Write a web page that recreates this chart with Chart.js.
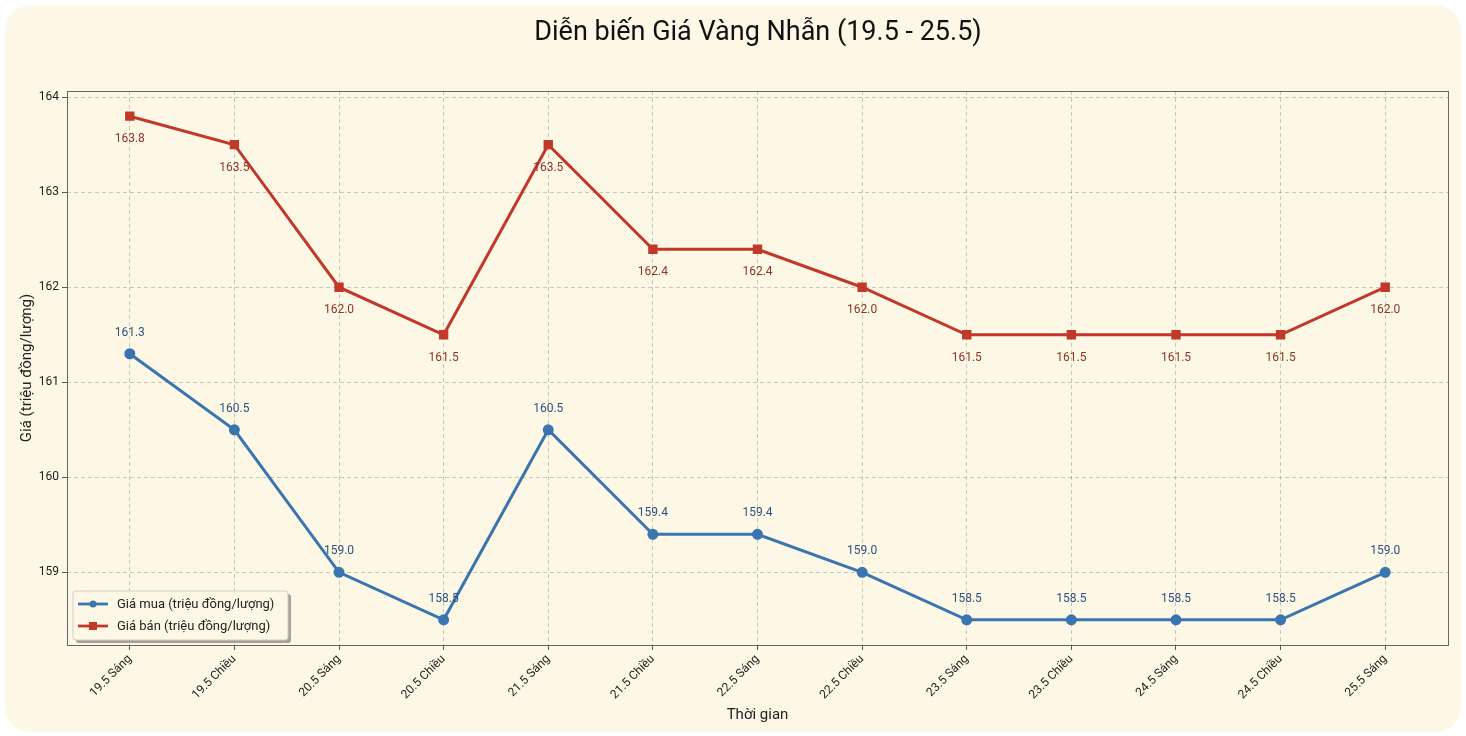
<!DOCTYPE html>
<html>
<head>
<meta charset="utf-8">
<script src="https://cdn.jsdelivr.net/npm/chart.js@4/dist/chart.umd.min.js"></script>
<style>
  html, body { margin: 0; padding: 0; background: #fefefe; }
  #wrap { width: 1466px; height: 736px; }
</style>
</head>
<body>
<div id="wrap"><canvas id="chart"></canvas></div>
<script>
const labels = ['19.5 Sáng', '19.5 Chiều', '20.5 Sáng', '20.5 Chiều', '21.5 Sáng', '21.5 Chiều',
    '22.5 Sáng', '22.5 Chiều', '23.5 Sáng', '23.5 Chiều', '24.5 Sáng', '24.5 Chiều', '25.5 Sáng'];
const giaMua = [161.3, 160.5, 159.0, 158.5, 160.5, 159.4, 159.4, 159.0, 158.5, 158.5, 158.5, 158.5, 159.0];
const giaBan = [163.8, 163.5, 162.0, 161.5, 163.5, 162.4, 162.4, 162.0, 161.5, 161.5, 161.5, 161.5, 162.0];
const yTicks = [159, 160, 161, 162, 163, 164];

const FONT = 'Roboto, "Noto Sans", sans-serif';
const BLUE = '#3a75b0';
const RED = '#c0392b';

// background card, title, plot frame
const cardPlugin = {
    id: 'card',
    beforeDraw(chart) {
        const c = chart.ctx;
        c.save();
        c.fillStyle = '#fdf8e6';
        c.beginPath();
        c.roundRect(5, 5, 1456, 727, 26);
        c.fill();
        c.fillStyle = '#111';
        c.font = '27px ' + FONT;
        c.textAlign = 'center';
        c.textBaseline = 'middle';
        c.fillText('Diễn biến Giá Vàng Nhẫn (19.5 - 25.5)', 758, 33);
        c.restore();
    },
    afterDatasetsDraw(chart) {
        const c = chart.ctx;
        const a = chart.chartArea;
        c.save();
        // value labels
        c.font = '12px ' + FONT;
        c.textAlign = 'center';
        c.textBaseline = 'middle';
        chart.data.datasets.forEach((ds, di) => {
            const meta = chart.getDatasetMeta(di);
            meta.data.forEach((pt, i) => {
                const v = ds.data[i].y.toFixed(1);
                c.fillStyle = di === 0 ? '#2f4f80' : '#8e3328';
                c.fillText(v, pt.x, di === 0 ? pt.y - 21 : pt.y + 23);
            });
        });
        // frame
        c.strokeStyle = '#666';
        c.lineWidth = 1;
        c.strokeRect(a.left + 0.5, a.top + 0.5, a.right - a.left, a.bottom - a.top);
        // legend
        const lx = 73, ly = 591, lw = 215, lh = 49;
        c.fillStyle = 'rgba(0,0,0,0.35)';
        c.beginPath(); c.roundRect(lx + 3, ly + 3, lw, lh, 3); c.fill();
        c.fillStyle = '#fdf8e6';
        c.strokeStyle = '#cfcfcf';
        c.beginPath(); c.roundRect(lx, ly, lw, lh, 3); c.fill(); c.stroke();
        c.textAlign = 'left';
        c.font = '13px ' + FONT;
        chart.data.datasets.forEach((ds, di) => {
            const y = ly + 13 + di * 22;
            c.strokeStyle = ds.borderColor;
            c.lineWidth = 2.8;
            c.beginPath(); c.moveTo(78, y); c.lineTo(108, y); c.stroke();
            c.fillStyle = ds.borderColor;
            if (di === 0) { c.beginPath(); c.arc(93, y, 3.5, 0, Math.PI * 2); c.fill(); }
            else c.fillRect(89, y - 4, 8, 8);
            c.fillStyle = '#222';
            c.fillText(ds.label, 117, y + 1);
        });
        c.restore();
    }
};

new Chart(document.getElementById('chart'), {
    type: 'line',
    data: {
        datasets: [{
            label: 'Giá mua (triệu đồng/lượng)',
            data: giaMua.map((v, i) => ({ x: i, y: v })),
            borderColor: BLUE,
            backgroundColor: BLUE,
            borderWidth: 3,
            pointStyle: 'circle',
            pointRadius: 4,
            pointHoverRadius: 4
        }, {
            label: 'Giá bán (triệu đồng/lượng)',
            data: giaBan.map((v, i) => ({ x: i, y: v })),
            borderColor: RED,
            backgroundColor: RED,
            borderWidth: 3,
            pointStyle: 'rect',
            pointRadius: 4.5,
            pointHoverRadius: 4.5
        }]
    },
    options: {
        responsive: true,
        maintainAspectRatio: false,
        animation: false,
        layout: { padding: { top: 91, right: 18, left: 18, bottom: 12 } },
        plugins: { legend: { display: false }, tooltip: { enabled: false } },
        scales: {
            x: {
                type: 'linear',
                min: -0.6,
                max: 12.6,
                afterBuildTicks: s => { s.ticks = labels.map((_, i) => ({ value: i })); },
                afterFit: s => { s.height = 79; },
                ticks: {
                    callback: v => labels[v],
                    minRotation: 45,
                    maxRotation: 45,
                    color: '#222',
                    font: { family: FONT, size: 12 },
                    padding: 2
                },
                grid: { color: 'rgba(0,0,0,0.2)', tickColor: '#555', tickLength: 5, tickBorderDash: [] },
                border: { display: false, dash: [4, 3] },
                title: { display: true, text: 'Thời gian', color: '#222', font: { family: FONT, size: 15 }, padding: { top: 0, bottom: 0 } }
            },
            y: {
                min: 158.235,
                max: 164.065,
                afterBuildTicks: s => { s.ticks = yTicks.map(v => ({ value: v })); },
                afterFit: s => { s.width = 49; },
                ticks: {
                    color: '#222',
                    font: { family: FONT, size: 12 },
                    padding: 3
                },
                grid: { color: 'rgba(0,0,0,0.2)', tickColor: '#555', tickLength: 5, tickBorderDash: [] },
                border: { display: false, dash: [4, 3] },
                title: { display: true, text: 'Giá (triệu đồng/lượng)', color: '#222', font: { family: FONT, size: 15 }, padding: { top: 0, bottom: 0 } }
            }
        }
    },
    plugins: [cardPlugin]
});
</script>
</body>
</html>
